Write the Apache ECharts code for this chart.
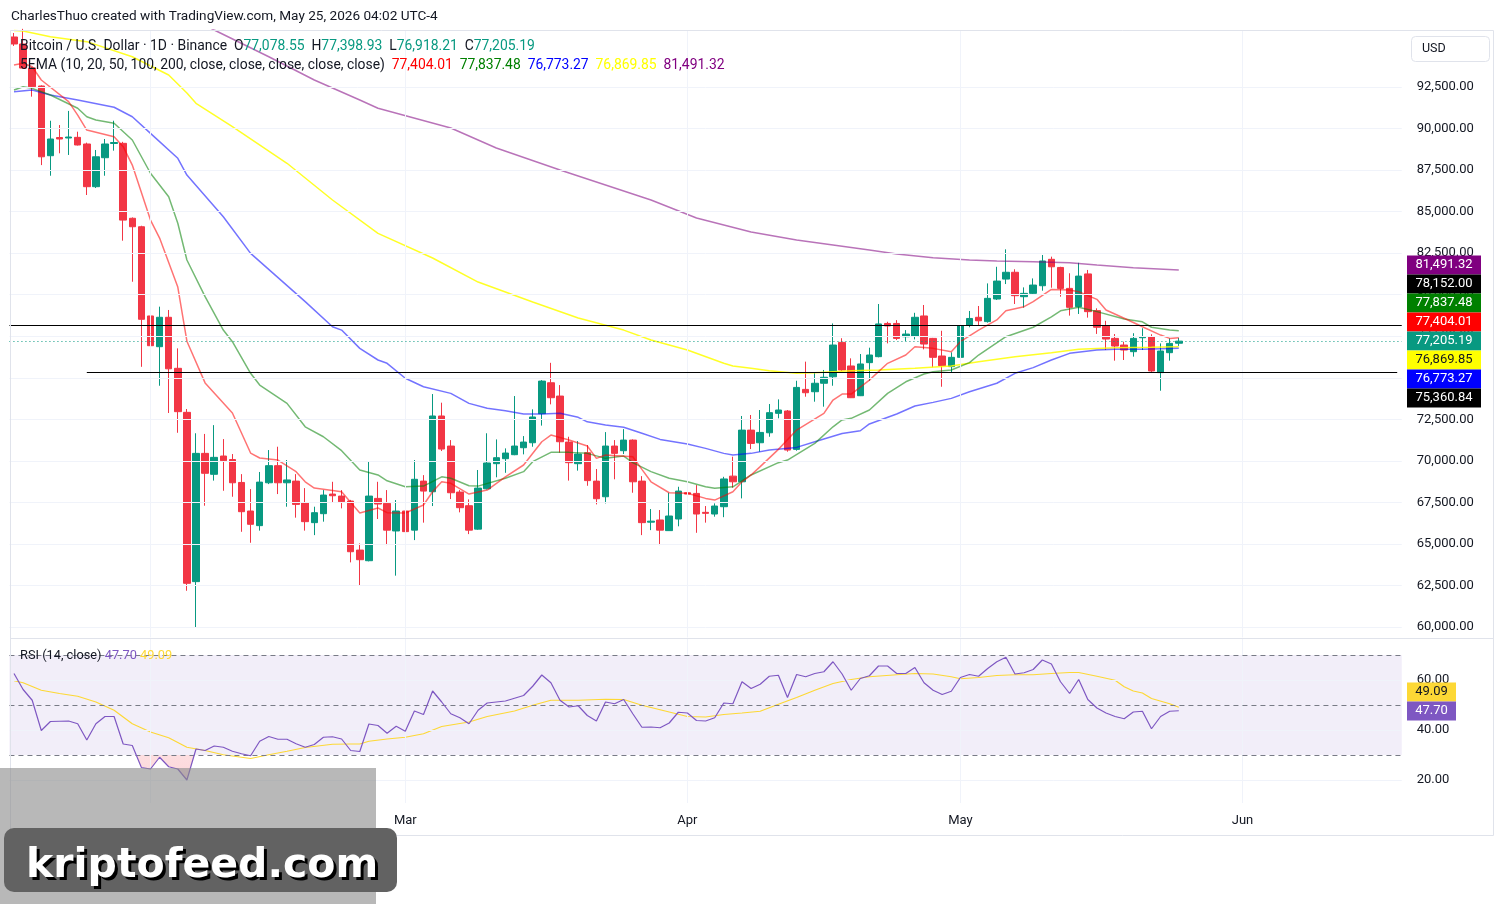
<!DOCTYPE html>
<html>
<head>
<meta charset="utf-8">
<title>BTCUSD 1D</title>
<script src="https://cdn.jsdelivr.net/npm/echarts@6/dist/echarts.min.js"></script>
<style>
html,body{margin:0;padding:0;background:#fff;}
#main{width:1504px;height:904px;}
</style>
</head>
<body>
<div id="main"></div>
<script>
// OHLC, daily from 2026-01-17
var opens = [95510,95090,93640,92560,88365,89460,89430,89470,89070,86500,88245,89100,89110,84600,84090,78720,76870,78640,75570,72920,
  62730,70450,69190,70290,70080,68700,66980,66100,68680,69710,68680,68780,67480,66280,66820,68000,67880,67580,64630,63990,
  67740,67440,65780,66980,65830,68780,68140,72700,70890,68120,67300,65890,68320,69830,70130,70370,70790,71090,72840,74700,
  73900,71130,69830,70490,68780,67840,70890,70610,71250,68780,66310,66440,65800,66500,68080,68040,66900,66800,67240,69080,
  68740,71850,71090,71690,72860,73000,70690,74300,74160,74670,75060,77130,75710,73920,75910,76270,78270,78270,77470,77510,
  78720,77370,76310,75670,76230,78170,78640,78380,79740,80940,81350,79880,80080,80540,82130,81640,80380,79280,81250,79040,
  78120,77370,76970,76570,77410,77470,75310,76510,77078.55];
var highs = [95750,96000,93700,92600,90470,90210,91060,89810,89150,88710,89370,90470,89200,84650,84150,79320,79280,79080,76770,73120,
  71660,71620,72150,71310,70410,69200,68300,69330,70650,70850,70050,69200,68360,67240,68240,68740,68240,67650,65030,69990,
  68740,68240,67640,67540,70050,69140,74020,73500,71250,68240,67680,69450,71660,71290,70750,73900,71490,73100,74860,75900,
  74560,71450,71190,70950,69510,71730,71250,71910,71290,69080,67100,67040,68080,68440,69140,68540,67280,67440,69040,70250,
  72700,72760,73060,73420,73700,73060,74820,75970,75310,75470,78270,77380,76170,76430,76810,79440,78370,78470,77870,78910,
  79380,77400,77830,76530,78840,79020,79320,80680,81680,82730,81530,80440,80980,82390,82290,81680,81290,81920,81490,79180,
  78430,77630,77170,77680,77980,77620,77070,77370,77398.93];
var lows = [94970,93600,91920,87800,87160,88510,88410,88980,86000,86420,87160,88670,83250,80780,75660,75660,74520,72880,71690,62180,
  59960,67300,68810,68200,67840,65730,65070,65800,68600,68000,67240,66580,65800,65530,66340,67480,67140,63890,62480,63950,
  66500,64930,63090,65130,65230,66280,67280,70590,67700,66900,65590,65850,68280,69010,69280,70340,70390,70850,72120,73400,
  70490,68810,69410,68500,67380,67440,68890,70410,68080,65530,65830,64930,65790,66060,66840,65670,66280,66640,66610,68380,
  67740,70710,70550,71450,72560,70550,70610,73860,73560,73260,74520,75410,73780,73900,74820,76230,77070,77270,77210,77310,
  76710,75630,74460,75310,76210,78040,78120,78320,79680,80640,79440,79220,80040,80240,80420,79880,78740,78840,78620,77640,
  76670,76030,76070,76270,76670,75330,74220,76030,76918.21];
var closes = [95090,93640,92520,88300,89370,89370,89490,89010,86500,88300,89070,89160,84490,84090,78520,76930,78640,75540,72960,62630,
  70450,69250,70210,70010,68680,66940,66180,68720,69710,68680,68850,67380,66340,66880,67940,67900,67540,64530,64050,67880,
  67400,65830,66980,65740,68890,68180,72700,70710,68080,67180,65830,68360,69870,70190,70470,70890,71130,72640,74800,73800,
  71150,69890,70410,68810,67720,70890,70450,71250,68740,66280,66370,65830,66680,68180,68000,66800,66840,67280,68910,68740,
  71850,71050,71710,72900,73060,70650,74420,74100,74670,75030,76970,75470,73800,75830,76370,78240,78120,77370,77630,78640,
  77030,76230,75730,76230,78120,78570,78430,79780,80820,81350,79940,80080,80580,82030,81680,80380,79240,81120,78980,78040,
  77330,76910,76670,77370,77470,75410,76610,77070,77205.19];

// EMA readings [candle index, value]
var ema10 = [[0,93820],[1,93930],[2,93720],[3,92920],[6,91620],[7,90810],[8,89910],[11,89510],[12,88910],[13,87800],[15,84490],[16,83410],
  [18,80460],[19,77200],[21,74690],[24,72880],[26,70470],[27,70170],[29,70050],[31,69350],[32,68740],[33,68360],[36,68140],[38,66860],
  [40,67160],[41,66880],[43,66860],[45,67340],[46,68140],[47,68740],[48,68650],[50,68000],[52,68240],[54,69040],[56,69750],[58,71150],
  [59,71550],[61,71250],[63,70890],[64,70150],[65,70350],[68,70250],[69,69490],[70,68740],[72,68080],[74,68050],[76,67740],[77,67640],
  [79,68140],[80,68740],[81,69150],[82,69650],[84,70690],[86,71850],[89,72860],[90,73660],[91,74020],[92,74020],[94,74860],[96,75870],
  [98,76370],[99,76870],[101,76770],[103,76570],[104,77170],[106,77870],[108,78480],[109,79030],[111,79280],[112,79580],[114,80320],
  [116,80280],[117,80180],[119,79720],[120,79080],[122,78580],[124,78070],[126,77570],[127,77370],[128,77404.01]];
var ema20 = [[0,92320],[1,92520],[2,92420],[4,92020],[7,91220],[8,90710],[9,90510],[11,90320],[13,89310],[15,87310],[17,85900],[18,84300],
  [19,82090],[21,79880],[23,77870],[24,77170],[26,75270],[27,74560],[30,73460],[32,72050],[34,71450],[36,70610],[38,69450],[40,69150],
  [41,68800],[43,68440],[45,68480],[47,69040],[48,68950],[50,68500],[51,68480],[54,68950],[56,69350],[57,69950],[59,70510],[61,70510],
  [63,70450],[65,70150],[67,70290],[68,69890],[70,69350],[72,68950],[74,68740],[76,68440],[77,68350],[79,68440],[81,69150],[84,69890],
  [85,70050],[88,71050],[90,72050],[91,72460],[92,72560],[94,73060],[96,74060],[98,74760],[100,75230],[101,75360],[103,75470],[105,75910],
  [106,76370],[109,77470],[112,78040],[114,78670],[115,79030],[117,79240],[119,78980],[122,78540],[124,78370],[125,78040],[127,77870],
  [128,77837.48]];
var ema50 = [[0,92220],[2,92320],[4,92020],[7,91720],[11,91280],[13,90710],[15,89710],[18,88210],[19,87200],[23,84690],[26,82490],
  [32,79580],[35,78070],[36,77870],[38,76770],[40,76070],[41,75870],[43,74970],[45,74460],[48,74060],[50,73460],[52,73160],[54,73020],
  [56,72820],[58,72820],[60,72860],[62,72620],[63,72350],[65,72160],[67,72020],[69,71660],[71,71290],[74,71010],[76,70750],[78,70450],
  [79,70350],[81,70450],[83,70650],[86,70810],[88,71150],[91,71650],[93,71810],[94,72220],[97,72820],[99,73300],[101,73520],[103,73760],
  [105,74160],[108,74670],[110,75270],[112,75610],[114,76070],[116,76470],[119,76670],[121,76710],[124,76710],[126,76750],[128,76773.27]];
var ema100 = [[0,95900],[1,95870],[4,95530],[8,95230],[13,94320],[17,93220],[19,92140],[20,91520],[24,90110],[30,87910],[35,85700],
  [40,83690],[46,82210],[51,80760],[57,79560],[62,78600],[67,77870],[70,77270],[74,76670],[78,75870],[79,75710],[81,75570],[83,75420],
  [86,75270],[88,75300],[92,75420],[95,75470],[99,75570],[103,75710],[106,75970],[110,76270],[114,76510],[117,76710],[121,76810],
  [125,76830],[128,76869.85]];
var ema200 = [[20,96500],[22,95930],[28,94320],[33,92920],[38,91720],[40,91220],[48,90030],[53,88830],[60,87500],[70,85700],[75,84620],
  [81,83770],[86,83290],[90,82990],[94,82690],[97,82450],[101,82230],[105,82090],[108,82030],[112,81990],[116,81930],[119,81790],
  [123,81620],[128,81491.32]];

// RSI 14 and its moving average
var rsi = [62.6,56.2,51.9,39.8,43.4,43.5,43.6,42.5,36,42.5,45.4,45.4,34.4,33.8,25,24.4,29.1,25.3,24.4,20,
  32.4,31.8,33.6,33.1,31.5,30.5,29.7,35.5,37.4,36.3,36.3,34.5,33.1,34.2,37.1,37.3,36.4,31.8,31.4,42.4,
  41.8,38.7,41.5,39.5,47.6,46.2,55.6,51.2,46.5,44.9,42.5,47.9,50.8,51.2,51.6,52.7,53.8,57.5,62,58.9,
  51.9,49.2,49.7,45.8,43.6,51.2,50.5,52.2,46.5,41.1,41.2,40.9,42.8,47.1,46.8,43.8,43.6,44.9,50.8,50.5,
  59.3,56.6,58.3,61.5,61.9,53,62.2,61.3,62.6,63.3,67.3,62.4,55.9,60.6,61.7,65.6,65.6,62.6,62.6,65,
  58.9,55.9,54.2,55.5,61,62.2,61.5,64.6,67.3,69.1,62.4,62.9,64.2,68,66.4,59.3,54.6,60.2,52.2,48.8,
  46.8,45.4,44.5,47.2,47.5,40.5,45.4,47.5,47.70];
var rsiMa = [[0,59.7],[1,58.9],[3,55.9],[5,54.6],[7,53.5],[9,51.2],[11,47.9],[13,42.5],[15,39.2],[17,36.9],[19,33.1],[21,31.8],
  [23,30.1],[26,28.6],[28,30.1],[30,31.5],[32,33.0],[35,34.3],[37,34.4],[38,34.4],[39,35.5],[41,36.4],[43,37.1],[45,38.5],[47,41.4],
  [50,43.2],[52,45.4],[55,47.6],[57,49.9],[59,51.9],[62,51.9],[65,52.3],[67,52.2],[69,49.9],[72,47.2],[74,45.4],[76,45.2],[78,46.2],
  [80,46.8],[82,47.5],[84,50.3],[86,53],[88,55.9],[90,58.6],[92,60.2],[94,61.3],[97,62.1],[99,62.6],[101,62.4],[103,61.3],[104,60.5],
  [106,61],[108,61.8],[110,62.1],[112,62.1],[114,62.6],[116,63],[117,63],[119,61.5],[121,59.9],[122,57.3],[123,55.6],[124,54.8],
  [125,52.6],[127,50.5],[128,49.09]];

var priceTicks = [60000,62500,65000,67500,70000,72500,75000,77500,80000,82500,85000,87500,90000,92500];
var rsiTicks = [20,40,60];
var rsiLevels = [70,50,30];
var monthStarts = ['2026-02-01','2026-03-01','2026-04-01','2026-05-01','2026-06-01'];
var monthNames = ['', 'Mar','Apr','May','Jun'];   // Feb sits under the watermark
var levelFull = 78152.00;
var levelRay = 75360.84;
var lastClose = 77205.19;

var dates = [];
var day0 = Date.UTC(2026, 0, 17);
for (var i = 0; i < 153; i++) {
    dates.push(new Date(day0 + i * 86400000).toISOString().slice(0, 10));
}

function fmt(v) {
    var p = v.toFixed(2).split('.');
    return p[0].replace(/\B(?=(\d{3})+$)/g, ',') + '.' + p[1];
}
function last(a) { return a[a.length - 1][1]; }

var candles = closes.map(function (c, k) { return [opens[k], c, lows[k], highs[k]]; });

var FONT = 'Roboto, sans-serif';
var INK = '#131722';
var L = 9.45, W = 1392.3;
var RSI_MIN = 10.8, RSI_MAX = 76.4, RSI_TOP = 639, RSI_H = 164;
var y30 = RSI_TOP + (RSI_MAX - 30) / (RSI_MAX - RSI_MIN) * RSI_H;

// label stacks on the right axis
var priceTags = [
    { v: last(ema200), bg: '#800080', fg: '#fff', y: 265 },
    { v: levelFull, bg: '#000000', fg: '#fff', y: 284 },
    { v: last(ema20), bg: '#008000', fg: '#fff', y: 303 },
    { v: last(ema10), bg: '#ff0000', fg: '#fff', y: 322 },
    { v: lastClose, bg: '#089981', fg: '#fff', y: 341 },
    { v: last(ema100), bg: '#ffff00', fg: INK, y: 360 },
    { v: last(ema50), bg: '#0000ff', fg: '#fff', y: 379 },
    { v: levelRay, bg: '#000000', fg: '#fff', y: 398 }
];
var rsiTags = [
    { v: last(rsiMa), bg: '#fdd835', fg: INK, y: 692 },
    { v: rsi[rsi.length - 1], bg: '#7e57c2', fg: '#fff', y: 711 }
];

var graphics = [];
priceTags.forEach(function (t) {
    graphics.push({ type: 'rect', shape: { x: 1407, y: t.y - 9.5, width: 74, height: 19 }, style: { fill: t.bg }, z: 100 });
    graphics.push({ type: 'text', x: 1444, y: t.y, style: { text: fmt(t.v), fill: t.fg, font: '13px ' + FONT, textAlign: 'center', textVerticalAlign: 'middle' }, z: 101 });
});
rsiTags.forEach(function (t) {
    graphics.push({ type: 'rect', shape: { x: 1407, y: t.y - 9.5, width: 49, height: 19 }, style: { fill: t.bg }, z: 100 });
    graphics.push({ type: 'text', x: 1431.5, y: t.y, style: { text: t.v.toFixed(2), fill: t.fg, font: '13px ' + FONT, textAlign: 'center', textVerticalAlign: 'middle' }, z: 101 });
});

var LF = '13.9px ' + FONT;
graphics = graphics.concat([
    // frame
    { type: 'rect', shape: { x: 10.5, y: 30.5, width: 1483, height: 805 }, style: { fill: 'none', stroke: '#e0e3eb', lineWidth: 1 }, z: 50 },
    { type: 'line', shape: { x1: 10, y1: 638.5, x2: 1494, y2: 638.5 }, style: { stroke: '#e0e3eb', lineWidth: 1 }, z: 50 },
    // header
    { type: 'text', x: 11, y: 17, style: { text: 'CharlesThuo created with TradingView.com, May 25, 2026 04:02 UTC-4', fill: INK, font: '13.6px ' + FONT, textVerticalAlign: 'middle' }, z: 100 },
    { type: 'text', x: 20, y: 47, z: 100, style: {
        text: '{n|Bitcoin / U.S. Dollar · 1D · Binance}  {n|O}{v|' + fmt(opens[128]) + '}  {n|H}{v|' + fmt(highs[128]) + '}  {n|L}{v|' + fmt(lows[128]) + '}  {n|C}{v|' + fmt(closes[128]) + '}',
        font: LF, textVerticalAlign: 'middle',
        rich: { n: { fill: INK, font: LF }, v: { fill: '#089981', font: LF } } } },
    { type: 'text', x: 20, y: 66, z: 100, style: {
        text: '{n|5EMA (10, 20, 50, 100, 200, close, close, close, close, close)}  {r|' + fmt(last(ema10)) + '}  {g|' + fmt(last(ema20)) + '}  {b|' + fmt(last(ema50)) + '}  {y|' + fmt(last(ema100)) + '}  {p|' + fmt(last(ema200)) + '}',
        font: LF, textVerticalAlign: 'middle',
        rich: { n: { fill: INK, font: LF }, r: { fill: '#ff0000', font: LF }, g: { fill: '#008000', font: LF },
            b: { fill: '#0000ff', font: LF }, y: { fill: '#ffff00', font: LF }, p: { fill: '#800080', font: LF } } } },
    { type: 'text', x: 20, y: 656, z: 100, style: {
        text: '{n|RSI (14, close)} {a|' + rsi[rsi.length - 1].toFixed(2) + '} {b|' + last(rsiMa).toFixed(2) + '}',
        font: '12.8px ' + FONT, textVerticalAlign: 'middle',
        rich: { n: { fill: INK, font: '12.8px ' + FONT }, a: { fill: '#7e57c2', font: '12.8px ' + FONT }, b: { fill: '#fdd835', font: '12.8px ' + FONT } } } },
    // currency box
    { type: 'rect', shape: { x: 1411.5, y: 36.5, width: 78, height: 25, r: 4 }, style: { fill: '#fff', stroke: '#e0e3eb' }, z: 100 },
    { type: 'text', x: 1422, y: 49, style: { text: 'USD', fill: INK, font: '12.5px ' + FONT, textVerticalAlign: 'middle' }, z: 101 },
    // watermark
    { type: 'rect', shape: { x: 0, y: 768, width: 376, height: 136 }, style: { fill: 'rgba(140,140,140,0.62)' }, z: 110 },
    { type: 'rect', shape: { x: 4, y: 828, width: 393, height: 64, r: 10 }, style: { fill: '#626262' }, z: 111 },
    { type: 'text', x: 29, y: 869, style: { text: 'kriptofeed.com', fill: '#000', font: 'bold 41px "DejaVu Sans"', textVerticalAlign: 'middle' }, z: 112 },
    { type: 'text', x: 26, y: 866, style: { text: 'kriptofeed.com', fill: '#fff', font: 'bold 41px "DejaVu Sans"', textVerticalAlign: 'middle' }, z: 113 }
]);

var quiet = { silent: true, symbol: ['none', 'none'], label: { show: false }, animation: false };
var hiddenCat = { type: 'category', data: dates, boundaryGap: true,
    axisLine: { show: false }, axisTick: { show: false }, axisLabel: { show: false }, splitLine: { show: false } };

var option = {
    animation: false,
    backgroundColor: '#ffffff',
    textStyle: { fontFamily: FONT },
    grid: [
        { left: L, top: 30, width: W, height: 607.5 },
        { left: L, top: RSI_TOP, width: W, height: RSI_H },
        // oversold strip: the RSI pane below 30 only
        { left: L, top: y30, width: W, height: RSI_TOP + RSI_H - y30 }
    ],
    xAxis: [
        Object.assign({ gridIndex: 0 }, hiddenCat),
        { type: 'category', gridIndex: 1, data: dates, boundaryGap: true,
          axisLine: { show: false }, axisTick: { show: false }, splitLine: { show: false },
          axisLabel: {
              interval: function (idx, val) { return monthStarts.indexOf(val) >= 0; },
              formatter: function (val) { var k = monthStarts.indexOf(val); return k >= 0 ? monthNames[k] : ''; },
              color: INK, fontSize: 13, margin: 11, fontFamily: FONT } },
        Object.assign({ gridIndex: 2 }, hiddenCat)
    ],
    yAxis: [
        { type: 'value', gridIndex: 0, position: 'right', min: 59368, max: 95931, scale: true,
          axisLine: { show: false }, axisTick: { show: false }, splitLine: { show: false },
          axisLabel: { customValues: priceTicks, formatter: fmt, color: INK, fontSize: 13, margin: 15, fontFamily: FONT } },
        { type: 'value', gridIndex: 1, position: 'right', min: RSI_MIN, max: RSI_MAX,
          axisLine: { show: false }, axisTick: { show: false }, splitLine: { show: false },
          axisLabel: { customValues: rsiTicks, formatter: function (v) { return v.toFixed(2); }, color: INK, fontSize: 13, margin: 15, fontFamily: FONT } },
        { type: 'value', gridIndex: 2, min: RSI_MIN, max: 30, show: false }
    ],
    graphic: graphics,
    series: [
        // price pane grid
        { type: 'line', xAxisIndex: 0, yAxisIndex: 0, data: [], z: 1,
          markLine: Object.assign({}, quiet, { lineStyle: { color: '#f0f3fa', width: 1, type: 'solid' },
              data: priceTicks.map(function (v) { return { yAxis: v }; }).concat(monthStarts.map(function (d) { return { xAxis: d }; })) }) },
        // rsi pane grid
        { type: 'line', xAxisIndex: 1, yAxisIndex: 1, data: [], z: 1,
          markArea: { silent: true, itemStyle: { color: 'rgba(126,87,194,0.1)' }, data: [[{ yAxis: 30 }, { yAxis: 70 }]] },
          markLine: Object.assign({}, quiet, { lineStyle: { color: '#f0f3fa', width: 1, type: 'solid' },
              data: rsiTicks.map(function (v) { return { yAxis: v }; }).concat(monthStarts.map(function (d) { return { xAxis: d }; })) }) },
        { type: 'line', xAxisIndex: 1, yAxisIndex: 1, data: [], z: 2,
          markLine: Object.assign({}, quiet, { lineStyle: { color: '#787b86', width: 1, type: [5, 4] },
              data: rsiLevels.map(function (v) { return { yAxis: v }; }) }) },
        { type: 'candlestick', xAxisIndex: 0, yAxisIndex: 0, data: candles, barWidth: 7, z: 3,
          itemStyle: { color: '#089981', color0: '#f23645', borderColor: '#089981', borderColor0: '#f23645', borderWidth: 1 } },
        { type: 'line', data: ema200, showSymbol: false, connectNulls: true, z: 4, lineStyle: { color: 'rgba(128,0,128,0.55)', width: 1.5 } },
        { type: 'line', data: ema100, showSymbol: false, connectNulls: true, z: 4, lineStyle: { color: 'rgba(255,255,0,0.85)', width: 1.5 } },
        { type: 'line', data: ema50, showSymbol: false, connectNulls: true, z: 4, lineStyle: { color: 'rgba(0,0,255,0.55)', width: 1.5 } },
        { type: 'line', data: ema20, showSymbol: false, connectNulls: true, z: 4, lineStyle: { color: 'rgba(0,128,0,0.55)', width: 1.5 } },
        { type: 'line', data: ema10, showSymbol: false, connectNulls: true, z: 4, lineStyle: { color: 'rgba(255,0,0,0.55)', width: 1.5 } },
        // horizontal levels and last price
        { type: 'line', xAxisIndex: 0, yAxisIndex: 0, data: [], z: 5,
          markLine: Object.assign({}, quiet, { lineStyle: { color: '#000', width: 1.2, type: 'solid' },
              data: [ { yAxis: levelFull }, [ { coord: [dates[8], levelRay] }, { coord: [dates[dates.length - 1], levelRay] } ] ] }) },
        { type: 'line', xAxisIndex: 0, yAxisIndex: 0, data: [], z: 5,
          markLine: Object.assign({}, quiet, { lineStyle: { color: '#089981', width: 1, type: [1, 3] }, data: [ { yAxis: lastClose } ] }) },
        // RSI
        { type: 'line', xAxisIndex: 2, yAxisIndex: 2, data: rsi, showSymbol: false, z: 2, clip: true,
          lineStyle: { width: 0, opacity: 0 },
          areaStyle: { origin: 'end', opacity: 1,
              color: { type: 'linear', x: 0, y: 0, x2: 0, y2: 1,
                  colorStops: [ { offset: 0, color: 'rgba(242,54,69,0.03)' }, { offset: 1, color: 'rgba(242,54,69,0.2)' } ] } } },
        { type: 'line', xAxisIndex: 1, yAxisIndex: 1, data: rsiMa, showSymbol: false, connectNulls: true, z: 4, lineStyle: { color: '#fdd835', width: 1.2 } },
        { type: 'line', xAxisIndex: 1, yAxisIndex: 1, data: rsi, showSymbol: false, z: 5, lineStyle: { color: '#7e57c2', width: 1.2 } }
    ]
};

var chart = echarts.init(document.getElementById('main'), null, { renderer: 'canvas' });
chart.setOption(option);
</script>
</body>
</html>
